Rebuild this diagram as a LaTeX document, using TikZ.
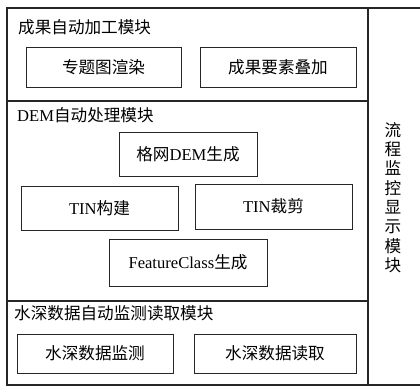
\documentclass[tikz,border=0pt]{standalone}
\usepackage{fontspec}
\setmainfont{Liberation Serif}
\newfontfamily\cjk{Noto Sans CJK SC}
\begin{document}
\begin{tikzpicture}[x=1pt,y=-1pt,
  box/.style={draw=black!85,line width=1pt,minimum width=#1,inner sep=0pt,font=\fontsize{16.6}{18}\selectfont},
  box/.default=156pt,
  title/.style={anchor=west,inner sep=0pt,font=\fontsize{16.6}{18}\selectfont},
  frame/.style={draw=black!85,line width=1.2pt}]
\useasboundingbox (0,0) rectangle (420,386);
% outer frame and dividers
\draw[frame] (420,8) -- (7,8) -- (7,385) -- (420,385);
\draw[frame] (368,8) -- (368,385);
\draw[frame] (7,101) -- (368,101);
\draw[frame] (7,301) -- (368,301);
% titles
\node[title] (t1) at (18,27) {\cjk 成果自动加工模块};
\node[title] (t2) at (17,115) {DEM{\cjk 自动处理模块}};
\node[title] (t3) at (14,313) {\cjk 水深数据自动监测读取模块};
% module 1
\node[box=155pt,minimum height=40pt] (b1) at (103.5,67) {\cjk 专题图渲染};
\node[box=156pt,minimum height=40pt] (b2) at (278,67) {\cjk 成果要素叠加};
% module 2
\node[box=138pt,minimum height=44pt] (dem) at (188,154) {{\cjk 格网}DEM{\cjk 生成}};
\node[box=157pt,minimum height=44pt] (tin1) at (99.5,208) {TIN{\cjk 构建}};
\node[box=157pt,minimum height=45pt] (tin2) at (273.5,206.5) {TIN{\cjk 裁剪}};
\node[box=158pt,minimum height=47pt] (fc) at (188,262.5) {FeatureClass{\cjk 生成}};
% module 3
\node[box=156pt,minimum height=39pt] (w1) at (95,353.5) {\cjk 水深数据监测};
\node[box=162pt,minimum height=39pt] (w2) at (275,353.5) {\cjk 水深数据读取};
% vertical label
\node[align=center,inner sep=0pt,font=\fontsize{16.6}{19.3}\selectfont\cjk] (v) at (393,197.5)
  {流\\程\\监\\控\\显\\示\\模\\块};
\end{tikzpicture}
\end{document}
